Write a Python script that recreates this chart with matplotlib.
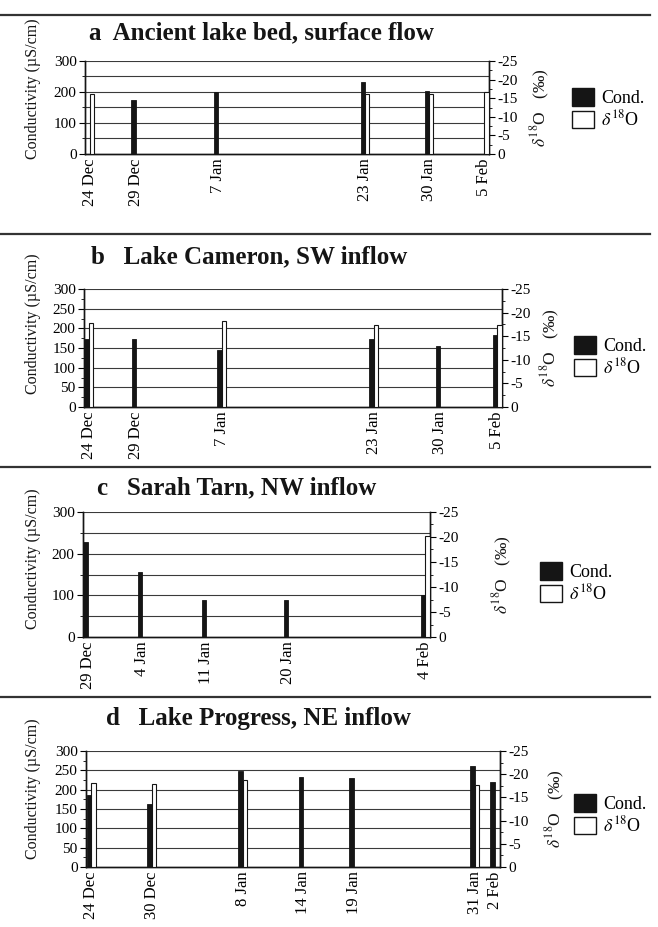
import numpy as np
import pandas as pd
import matplotlib
matplotlib.use('Agg')
import matplotlib.pyplot as plt
from matplotlib.patches import Patch
from matplotlib.lines import Line2D
from matplotlib.ticker import FixedLocator, FixedFormatter, MultipleLocator

plt.rcParams['font.family'] = ['Liberation Serif', 'DejaVu Serif']
plt.rcParams['mathtext.fontset'] = 'stix'

nan = np.nan

# ---------------- data ----------------
titles = ["a  Ancient lake bed, surface flow",
          "b   Lake Cameron, SW inflow",
          "c   Sarah Tarn, NW inflow",
          "d   Lake Progress, NE inflow"]

a_dates = ['24 Dec', '29 Dec', '7 Jan', '23 Jan', '30 Jan', '5 Feb']
a_cond = [nan, 173, 200, 233, 204, nan]
a_d18o = [-16.1, nan, nan, -16.0, -16.0, -16.7]

b_dates = ['24 Dec', '29 Dec', '7 Jan', '23 Jan', '30 Jan', '5 Feb']
b_cond = [173, 172, 145, 172, 156, 183]
b_d18o = [-17.8, nan, -18.3, -17.4, nan, -17.4]

c_dates = ['29 Dec', '4 Jan', '11 Jan', '20 Jan', '4 Feb']
c_cond = [227, 157, 90, 90, 102]
c_d18o = [nan, nan, nan, nan, -20.1]

d_dates = ['24 Dec', '30 Dec', '8 Jan', '14 Jan', '19 Jan', '31 Jan', '2 Feb']
d_cond = [185, 163, 248, 234, 229, 260, 219]
d_d18o = [-18.1, -17.9, -18.7, nan, nan, -17.6, nan]

cond_ticks_ac = [0, 100, 200, 300]
cond_ticks_bd = [0, 50, 100, 150, 200, 250, 300]
d18o_ticks = [0, -5, -10, -15, -20, -25]

# ---------------- layout ----------------
W, H = 658, 927
fig = plt.figure(figsize=(W / 100, H / 100), dpi=100)

MONTHS = {'Dec': (2000, 12), 'Jan': (2001, 1), 'Feb': (2001, 2)}
BASE = pd.Timestamp(2000, 12, 24)


def day_num(lbl):
    d, m = lbl.split()
    y, mm = MONTHS[m]
    return (pd.Timestamp(y, mm, int(d)) - BASE).days


panels = [
    # dates, cond, d18o, ticks, (left,right,top,bottom), title xy, legend xy, dlabel x, ylabel shift, sep y
    (a_dates, a_cond, a_d18o, cond_ticks_ac, (85, 489, 61, 154), (89, 33), (572, 109), 540, 19, 15),
    (b_dates, b_cond, b_d18o, cond_ticks_bd, (84, 502, 289, 407), (91, 257), (574, 357), 550, 24, 234),
    (c_dates, c_cond, c_d18o, cond_ticks_ac, (83, 430, 512, 637), (97, 488), (540, 583), 502, 16, 467),
    (d_dates, d_cond, d_d18o, cond_ticks_bd, (86, 500, 751, 867), (106, 718), (574, 815), 555, 20, 697),
]

BW = 0.45
for i, (dates, cond, d18o, cticks, (l, r, t, b), (tx, ty), (lx, ly), dlx, ysh, sepy) in enumerate(panels):
    ax = fig.add_axes([l / W, 1 - b / H, (r - l) / W, (b - t) / H])
    ax2 = ax.twinx()
    days = np.array([day_num(s) for s in dates], dtype=float)
    cond = np.array(cond, dtype=float)
    d18o = np.array(d18o, dtype=float)

    mc = ~np.isnan(cond)
    ax.bar(days[mc] - BW / 2, cond[mc], width=BW, color='#151515', edgecolor='#151515',
           linewidth=0.6, zorder=3)
    md = ~np.isnan(d18o)
    ax2.bar(days[md] + BW / 2, d18o[md], width=BW, color='white', edgecolor='#151515',
            linewidth=0.8, zorder=3)

    ax.set_xlim(days[0] - 0.5, days[-1] + 0.5)
    ax.set_ylim(0, 300)
    ax2.set_ylim(0, -25)

    # gridlines every 50
    ax.yaxis.set_major_locator(FixedLocator(cticks))
    ax.yaxis.set_major_formatter(FixedFormatter([str(v) for v in cticks]))
    ax.yaxis.set_minor_locator(MultipleLocator(25 if len(cticks) > 4 else 50))
    for gv in range(50, 301, 50):
        ax.axhline(gv, color='#3a3a3a', lw=0.8, zorder=1)

    ax2.yaxis.set_major_locator(FixedLocator(d18o_ticks))
    ax2.yaxis.set_major_formatter(FixedFormatter([str(v) for v in d18o_ticks]))
    ax2.yaxis.set_minor_locator(MultipleLocator(2.5))

    ax.set_xticks(days)
    ax.set_xticklabels(dates, rotation=90, fontsize=12)
    ax.tick_params(axis='x', length=0, pad=3)
    ax.tick_params(axis='y', which='major', length=4, width=0.8, labelsize=11, pad=2)
    ax.tick_params(axis='y', which='minor', length=2.5, width=0.6)
    ax2.tick_params(axis='y', which='major', length=4, width=0.8, labelsize=11, pad=2)
    ax2.tick_params(axis='y', which='minor', length=2.5, width=0.6)

    for a_ in (ax, ax2):
        a_.spines['top'].set_visible(False)
        for s in ('left', 'right', 'bottom'):
            a_.spines[s].set_linewidth(1.0)
            a_.spines[s].set_color('#151515')

    # titles, axis labels
    fig.text(tx / W, 1 - ty / H, titles[i], fontsize=18, fontweight='bold',
             ha='left', va='center', color='#151515')
    fig.text(33 / W, 1 - ((t + b) / 2 - ysh) / H, 'Conductivity (µS/cm)', rotation=90,
             fontsize=11.5, ha='center', va='center', color='#151515')
    fig.text(dlx / W, 1 - ((t + b) / 2) / H, r'$\delta^{18}$O   (‰)', rotation=90,
             fontsize=12.5, ha='center', va='center', color='#151515')

    handles = [Patch(facecolor='#151515', edgecolor='#151515', label='Cond.'),
               Patch(facecolor='white', edgecolor='#151515', label=r'$\delta^{18}$O')]
    fig.legend(handles=handles, loc='center left', bbox_to_anchor=(lx / W, 1 - ly / H),
               frameon=False, fontsize=13, handlelength=1.2, handleheight=1.1,
               handletextpad=0.4, labelspacing=0.15, borderpad=0, borderaxespad=0)

    # separator line above each panel
    fig.add_artist(Line2D([0, 650 / W], [1 - sepy / H, 1 - sepy / H],
                          transform=fig.transFigure, color='#333333', lw=1.6))

fig.savefig('out.png', dpi=100)
